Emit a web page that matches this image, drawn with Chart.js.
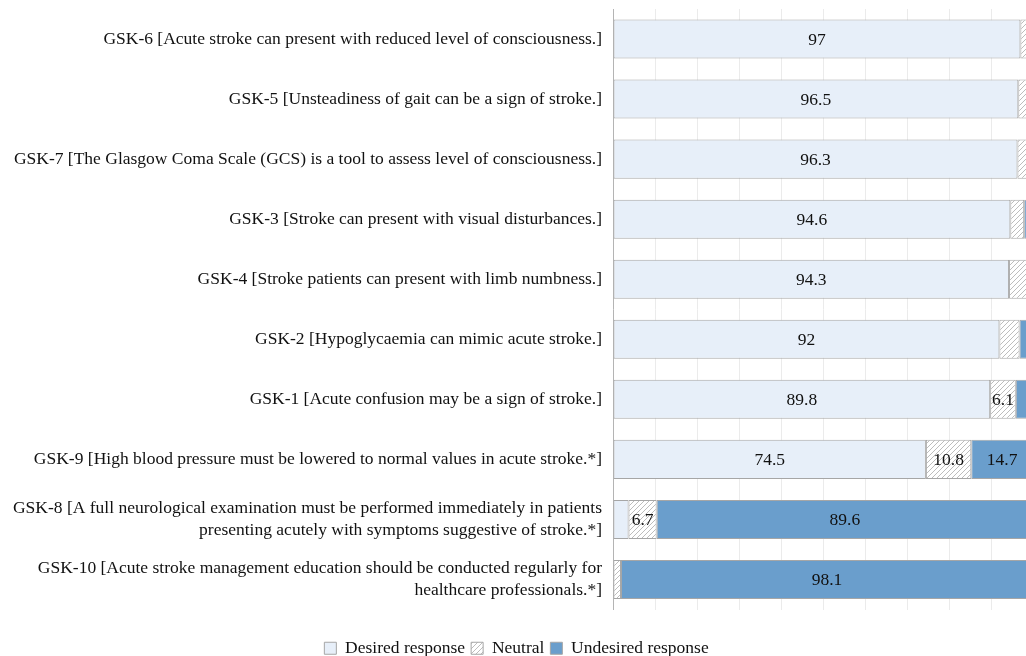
<!DOCTYPE html>
<html>
<head>
<meta charset="utf-8">
<script src="https://cdn.jsdelivr.net/npm/chart.js@4/dist/chart.umd.min.js"></script>
<style>
  html, body { margin: 0; padding: 0; overflow: hidden; background: #fff; }
  #wrap { width: 1040px; height: 667px; position: relative; }
</style>
</head>
<body>
<div id="wrap"><canvas id="likertChart"></canvas></div>
<script>
const items = [
  'GSK-6 [Acute stroke can present with reduced level of consciousness.]',
  'GSK-5 [Unsteadiness of gait can be a sign of stroke.]',
  'GSK-7 [The Glasgow Coma Scale (GCS) is a tool to assess level of consciousness.]',
  'GSK-3 [Stroke can present with visual disturbances.]',
  'GSK-4 [Stroke patients can present with limb numbness.]',
  'GSK-2 [Hypoglycaemia can mimic acute stroke.]',
  'GSK-1 [Acute confusion may be a sign of stroke.]',
  'GSK-9 [High blood pressure must be lowered to normal values in acute stroke.*]',
  ['GSK-8 [A full neurological examination must be performed immediately in patients', 'presenting acutely with symptoms suggestive of stroke.*]'],
  ['GSK-10 [Acute stroke management education should be conducted regularly for', 'healthcare professionals.*]']
];
const desired   = [97, 96.5, 96.3, 94.6, 94.3, 92, 89.8, 74.5, 3.7, 0];
const neutral   = [2.6, 2.8, 2.9, 3.3, 4.4, 4.8, 6.1, 10.8, 6.7, 1.9];
const undesired = [0.4, 0.7, 0.8, 2.1, 1.3, 3.2, 4.1, 14.7, 89.6, 98.1];

// diagonal hatch for the neutral segments
function makeHatch() {
  const c = document.createElement('canvas');
  c.width = 5; c.height = 5;
  const g = c.getContext('2d');
  g.fillStyle = '#ffffff';
  g.fillRect(0, 0, 5, 5);
  g.strokeStyle = '#bdbdbd';
  g.lineWidth = 1;
  g.beginPath();
  g.moveTo(0, 5); g.lineTo(5, 0);
  g.moveTo(-1, 1); g.lineTo(1, -1);
  g.moveTo(4, 6); g.lineTo(6, 4);
  g.stroke();
  return g.createPattern(c, 'repeat');
}

// numbers written in the middle of each segment that is wide enough
const valueLabels = {
  id: 'valueLabels',
  afterDatasetsDraw(chart) {
    const ctx = chart.ctx;
    ctx.save();
    ctx.font = '17.5px "Liberation Serif"';
    ctx.fillStyle = '#111';
    ctx.textAlign = 'center';
    ctx.textBaseline = 'middle';
    chart.data.datasets.forEach((ds, i) => {
      chart.getDatasetMeta(i).data.forEach((bar, j) => {
        const v = ds.data[j];
        if (v < 5) return;
        ctx.fillText(String(v), (bar.x + bar.base) / 2, bar.y + 1);
      });
    });
    ctx.restore();
  }
};

const serif = { family: '"Liberation Serif", "Times New Roman", serif', size: 17.5, lineHeight: 1.25 };

const ctx = document.getElementById('likertChart').getContext('2d');
const chart = new Chart(ctx, {
  type: 'bar',
  data: {
    labels: items,
    datasets: [
      { label: 'Desired response', data: desired, backgroundColor: '#e7eff9' },
      { label: 'Neutral', data: neutral, backgroundColor: makeHatch() },
      { label: 'Undesired response', data: undesired, backgroundColor: '#6a9ecc' }
    ]
  },
  options: {
    indexAxis: 'y',
    responsive: true,
    maintainAspectRatio: false,
    animation: false,
    layout: { padding: { top: 9, left: 0, right: 7, bottom: 0 } },
    elements: {
      bar: {
        borderWidth: 1,
        borderColor: '#a6a6a6',
        borderSkipped: false
      }
    },
    datasets: {
      bar: { barPercentage: 0.65, categoryPercentage: 1 }
    },
    plugins: {
      legend: {
        position: 'bottom',
        labels: {
          font: serif,
          color: '#111',
          boxWidth: 12,
          boxHeight: 12,
          padding: 6
        }
      },
      tooltip: { enabled: false }
    },
    scales: {
      x: {
        stacked: true,
        min: 0,
        max: 100,
        ticks: { display: false, stepSize: 10 },
        grid: { color: '#ebebeb', drawTicks: false },
        border: { display: false },
        afterFit: (scale) => { scale.height = 24; }
      },
      y: {
        stacked: true,
        ticks: { font: serif, color: '#111', padding: 11 },
        grid: { display: false, drawTicks: false },
        border: { display: true, color: '#b4b4b4' },
        afterFit: (scale) => {
          scale.width = 613;
          scale.paddingTop = 0;
          scale.paddingBottom = 0;
        }
      }
    }
  },
  plugins: [valueLabels]
});
</script>
</body>
</html>
